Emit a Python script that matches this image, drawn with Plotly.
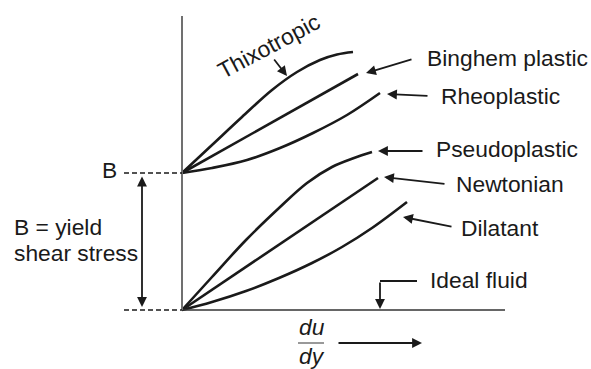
import plotly.graph_objects as go

# shear rate (x) vs shear stress (y) (pixel-ish units)
yield_stress = 137

thixo_x = [0, 30, 60, 90, 115, 138, 155, 171]
thixo_y = [137, 165, 193, 220, 238, 250, 255.5, 258]

bingham_x = [0, 176]
bingham_y = [137, 236]

rheo_x = [0, 30, 65, 98, 131, 165, 198]
rheo_y = [137, 142, 150, 162, 177, 195, 217]

pseudo_x = [0, 30, 64, 97, 125, 150, 172, 190]
pseudo_y = [0, 33, 70, 102, 127, 143, 152, 158]

newton_x = [0, 196]
newton_y = [0, 132]

dilat_x = [0, 30, 64, 97, 130, 160, 190, 225]
dilat_y = [0, 8, 19, 32, 47, 63, 82, 108]

ideal_x = [0, 323]
ideal_y = [0, 0]

FONT = "Liberation Sans, Arial, sans-serif"
INK = "#1a1a1a"

fig = go.Figure()

for xs, ys in [(thixo_x, thixo_y), (bingham_x, bingham_y), (rheo_x, rheo_y),
               (pseudo_x, pseudo_y), (newton_x, newton_y), (dilat_x, dilat_y)]:
    fig.add_trace(go.Scatter(x=xs, y=ys, mode="lines",
                             line=dict(color=INK, width=2.6, shape="spline", smoothing=1.0),
                             hoverinfo="skip", showlegend=False))

# axes drawn by hand
fig.add_trace(go.Scatter(x=ideal_x, y=ideal_y, mode="lines",
                         line=dict(color="#333333", width=1.5),
                         hoverinfo="skip", showlegend=False))
fig.add_shape(type="line", x0=0, x1=0, y0=0, y1=294,
              line=dict(color="#707070", width=2))

# dashed guides at B and at zero
for yv in [yield_stress, 0]:
    fig.add_shape(type="line", x0=-58, x1=0, y0=yv, y1=yv,
                  line=dict(color=INK, width=1.6, dash="5px,3px"))

# Ideal fluid elbow
fig.add_shape(type="line", x0=235, x1=198, y0=29, y1=29,
              line=dict(color=INK, width=1.8))
# fraction bar
fig.add_shape(type="line", x0=116, x1=142, y0=-33, y1=-33,
              line=dict(color="#555555", width=1.2))

def arrow(hx, hy, tx, ty, both=False):
    fig.add_annotation(x=hx, y=hy, ax=tx, ay=ty, xref="x", yref="y",
                       axref="x", ayref="y", text="", showarrow=True,
                       arrowhead=2, arrowsize=1.1, arrowwidth=1.8,
                       arrowcolor=INK, standoff=0, startstandoff=0,
                       arrowside="end+start" if both else "end",
                       startarrowhead=2, startarrowsize=1.1)

arrow(184, 237, 231, 251)   # Binghem
arrow(205, 216, 247, 214)   # Rheoplastic
arrow(196, 159, 242, 159)   # Pseudoplastic
arrow(202, 133, 264, 126)   # Newtonian
arrow(221, 93, 271, 83)     # Dilatant
arrow(105, 234, 91, 252)    # Thixotropic
arrow(198, 1, 198, 29)      # Ideal fluid
arrow(240, -33, 155, -33)   # du/dy direction
arrow(-40, 3, -40, 135, both=True)  # yield stress span

def label(text, x, y, xanchor="left", angle=0, italic=False):
    fig.add_annotation(x=x, y=y, xref="x", yref="y", text=text,
                       showarrow=False, xanchor=xanchor, yanchor="middle",
                       textangle=angle,
                       font=dict(family=FONT, size=22.8, color=INK,
                                 style="italic" if italic else "normal"))

label("Binghem plastic", 243, 252)
label("Rheoplastic", 257, 214)
label("Pseudoplastic", 252, 161)
label("Newtonian", 272, 126)
label("Dilatant", 277, 82)
label("Ideal fluid", 246, 30)
label("B", -63, 140, xanchor="right")
label("B = yield", -170, 83)
label("shear stress", -170, 57)
label("Thixotropic", 87, 264, xanchor="center", angle=-28)
label("du", 130, -17, xanchor="center", italic=True)
label("dy", 130, -46, xanchor="center", italic=True)

fig.update_layout(
    width=591, height=369,
    margin=dict(l=0, r=0, t=0, b=0),
    paper_bgcolor="white", plot_bgcolor="white",
    xaxis=dict(range=[-182, 409], visible=False, fixedrange=True),
    yaxis=dict(range=[-59, 310], visible=False, fixedrange=True),
)

# drop the default page margin so the figure fills the window exactly
fig.write_html("out.html", config={"displayModeBar": False},
               post_script="document.body.style.margin='0';document.body.style.overflow='hidden';")
